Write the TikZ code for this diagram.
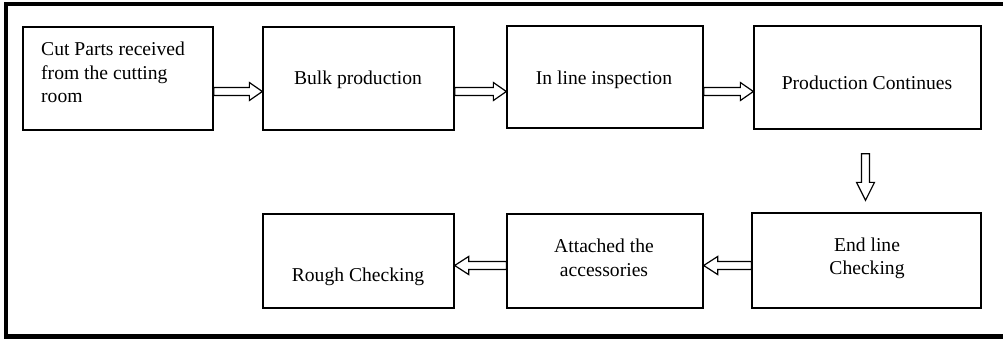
\documentclass[tikz,border=0pt]{standalone}
\usepackage{fontspec}
\setmainfont{Liberation Serif}
\usetikzlibrary{calc}

\tikzset{
  stage/.style={draw, line width=1.3pt, inner sep=0pt, fill=white},
  stagetext/.style={inner sep=0pt, font=\fontsize{19.6}{23.5}\selectfont},
  blockarrow/.style={draw, line width=1.2pt, line join=miter, fill=white},
}

% Hollow block arrow from #2 (tail) to #3 (tip); #1 = head length
\newcommand\flow[3][13]{%
  \coordinate (hb) at ($(#3)!#1pt!(#2)$);
  \draw[blockarrow]
    ($(#2)!4pt!90:(#3)$) -- ($(hb)!4pt!90:(#3)$) -- ($(hb)!9pt!90:(#3)$)
    -- (#3)
    -- ($(hb)!9pt!-90:(#3)$) -- ($(hb)!4pt!-90:(#3)$) -- ($(#2)!4pt!-90:(#3)$)
    -- cycle;}

\begin{document}
\begin{tikzpicture}[x=1pt, y=-1pt]
\useasboundingbox (0,0) rectangle (1003,340);

% outer frame
\draw[line width=4.5pt, line join=miter] (1003,4) -- (6,4) -- (6,336.5) -- (1003,336.5);

% upper row
\node[stage, minimum width=190pt, minimum height=103pt] (b1) at (118,78.5) {};
\node[stage, minimum width=191pt, minimum height=103pt] (b2) at (358.5,78.5) {};
\node[stage, minimum width=196pt, minimum height=102pt] (b3) at (605,77) {};
\node[stage, minimum width=227pt, minimum height=103pt] (b4) at (867.5,77.5) {};

% lower row
\node[stage, minimum width=229pt, minimum height=95pt] (b5) at (866.5,260.5) {};
\node[stage, minimum width=196pt, minimum height=94pt] (b6) at (605,261) {};
\node[stage, minimum width=191pt, minimum height=94pt] (b7) at (358.5,261) {};

% captions
\node[stagetext, anchor=west, align=left] (t1) at (41,72.5)
  {Cut Parts received\\from the cutting\\room};
\node[stagetext, anchor=base] (t2) at (358,84) {Bulk production};
\node[stagetext, anchor=base] (t3) at (604,84) {In line inspection};
\node[stagetext, anchor=base] (t4) at (867,89) {Production Continues};
\node[stagetext, align=center] (t5) at (867,258.5) {End line\\Checking};
\node[stagetext, align=center] (t6) at (604,258) {Attached the\\accessories};
\node[stagetext, anchor=base] (t7) at (358,281) {Rough Checking};

% connectors
\coordinate (a1t) at (b1.east |- 0,91.5);
\coordinate (a1h) at (b2.west |- 0,91.5);
\coordinate (a2t) at (b2.east |- 0,91.5);
\coordinate (a2h) at (b3.west |- 0,91.5);
\coordinate (a3t) at (b3.east |- 0,91.5);
\coordinate (a3h) at (b4.west |- 0,91.5);
\coordinate (a4t) at ($(b4.south)+(-2,24)$);
\coordinate (a4h) at ($(b5.north)+(-1,-12)$);
\coordinate (a5t) at (b5.west |- 0,265.5);
\coordinate (a5h) at (b6.east |- 0,265.5);
\coordinate (a6t) at (b6.west |- 0,265.5);
\coordinate (a6h) at (b7.east |- 0,265.5);

\flow{a1t}{a1h}
\flow{a2t}{a2h}
\flow{a3t}{a3h}
\flow[18]{a4t}{a4h}
\flow[14]{a5t}{a5h}
\flow[14]{a6t}{a6h}
\end{tikzpicture}
\end{document}
